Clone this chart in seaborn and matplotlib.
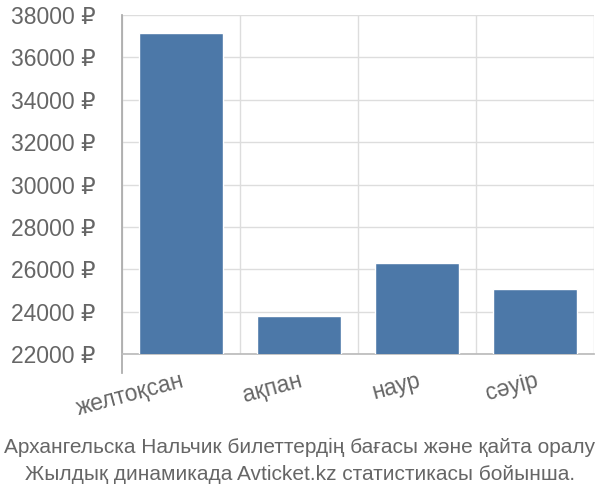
import matplotlib
matplotlib.use("Agg")
import matplotlib.pyplot as plt
import seaborn as sns
import pandas as pd
from matplotlib.ticker import FixedLocator, FuncFormatter

# данные с картинки
months = ["желтоқсан", "ақпан", "наур", "сәуір"]
prices = [37150, 23800, 26300, 25080]
y_ticks = [22000, 24000, 26000, 28000, 30000, 32000, 34000, 36000, 38000]
caption = ["Архангельска Нальчик билеттердің бағасы және қайта оралу",
           "Жылдық динамикада Avticket.kz статистикасы бойынша."]

sns.set_theme(style="white")
plt.rcParams["font.family"] = ["Liberation Sans", "DejaVu Sans"]

text_color = "#666666"
grid_color = "#dddddd"

df = pd.DataFrame({"month": months, "price": prices})

fig = plt.figure(figsize=(6, 5), dpi=100)
ax = fig.add_axes([0.2033, 0.292, 0.7867, 0.678])

sns.barplot(data=df, x="month", y="price", color="#4c78a8", saturation=1,
            width=0.72, ax=ax, zorder=3)

ax.set_ylim(y_ticks[0], y_ticks[-1])
ax.set_xlim(-0.5, len(months) - 0.5)
ax.yaxis.set_major_locator(FixedLocator(y_ticks))
ax.yaxis.set_major_formatter(FuncFormatter(lambda v, p: f"{int(v)} ₽"))
ax.xaxis.set_minor_locator(FixedLocator([i - 0.5 for i in range(len(months) + 1)]))

ax.grid(True, axis="y", which="major", color=grid_color, lw=1, zorder=0)
ax.grid(True, axis="x", which="minor", color=grid_color, lw=1, zorder=0)
ax.set_axisbelow(True)

for s in ["top", "right"]:
    ax.spines[s].set_visible(False)
ax.spines["left"].set_color("#aaaaaa")
ax.spines["bottom"].set_color("#bbbbbb")
ax.spines["left"].set_bounds(y_ticks[0] - 900, y_ticks[-1])

ax.tick_params(axis="y", which="major", length=18, color=grid_color, width=1,
               labelsize=16.5, labelcolor=text_color, pad=1)
ax.tick_params(axis="x", which="major", length=0, labelsize=16.5,
               labelcolor=text_color, pad=11)
ax.tick_params(axis="x", which="minor", length=18, color=grid_color, width=1)

ax.set_xticks(range(len(months)))
ax.set_xticklabels(months, rotation=15, ha="right", va="top",
                   rotation_mode="anchor")
ax.set_xlabel("")
ax.set_ylabel("")

fig.text(0.5, 0.106, caption[0], ha="center", va="center", fontsize=15,
         color=text_color)
fig.text(0.5, 0.052, caption[1], ha="center", va="center", fontsize=15,
         color=text_color)

fig.savefig("out.png", dpi=100)
